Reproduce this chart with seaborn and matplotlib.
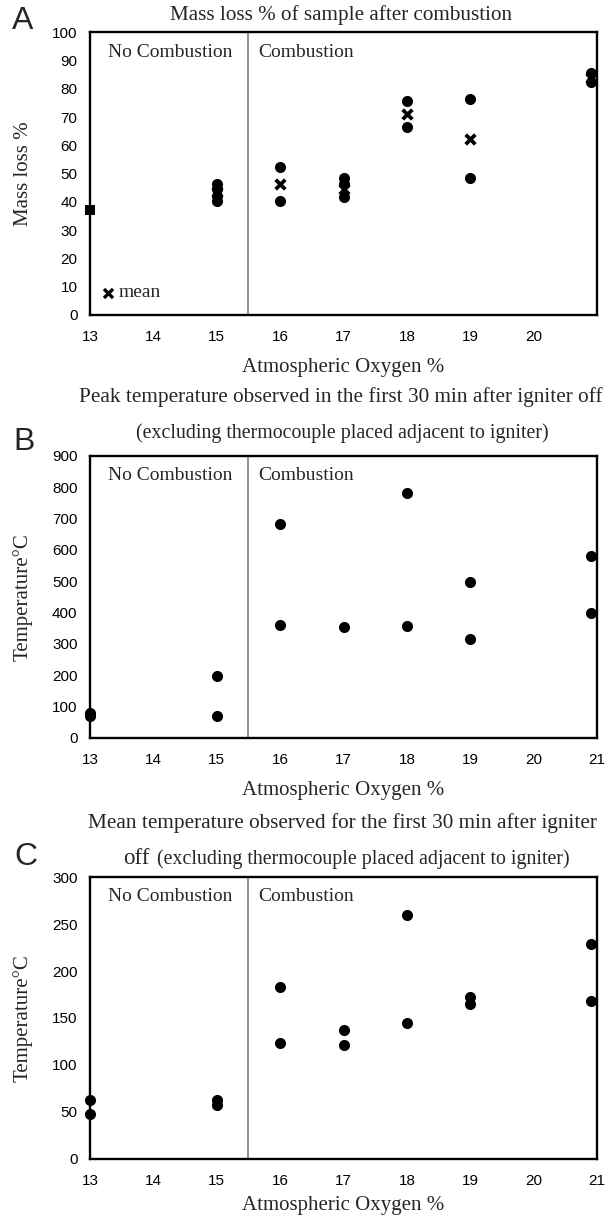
import matplotlib
matplotlib.use("Agg")
import matplotlib.pyplot as plt
import seaborn as sns
import pandas as pd

sns.set_style("white")
plt.rcParams["font.family"] = ["Liberation Sans", "DejaVu Sans"]
SERIF = ["Liberation Serif", "DejaVu Serif"]

# ---------------- data ----------------
x_ticks = [13, 14, 15, 16, 17, 18, 19, 20, 21]
x_ticklabels_a = ["13", "14", "15", "16", "17", "18", "19", "20", ""]
x_ticklabels = ["13", "14", "15", "16", "17", "18", "19", "20", "21"]

# Panel A: mass loss %
a_x = [15, 15, 15, 15, 16, 16, 17, 17, 17, 18, 18, 19, 19, 20.9, 20.9]
a_y = [46.5, 44.5, 42.0, 40.5, 52.3, 40.2, 48.5, 46.3, 41.8, 75.8, 66.6, 76.3, 48.6, 85.6, 82.3]
a_mean_x = [15, 16, 17, 18, 19, 20.9]
a_mean_y = [43.4, 46.4, 44.5, 71.2, 62.3, 84.0]
a_single_x = [13]
a_single_y = [37.0]
a_yticks = [0, 10, 20, 30, 40, 50, 60, 70, 80, 90, 100]

# Panel B: peak temperature
b_x = [13, 13, 15, 15, 16, 16, 17, 18, 18, 19, 19, 20.9, 20.9]
b_y = [78, 68, 196, 70, 682, 360, 353, 780, 355, 497, 314, 579, 399]
b_yticks = [0, 100, 200, 300, 400, 500, 600, 700, 800, 900]

# Panel C: mean temperature
c_x = [13, 13, 15, 15, 16, 16, 17, 17, 18, 18, 19, 19, 20.9, 20.9]
c_y = [62, 48, 62, 57, 183, 123, 137, 121, 260, 144.5, 172, 164.5, 229, 168]
c_yticks = [0, 50, 100, 150, 200, 250, 300]

divider = 15.5
xlabel = "Atmospheric Oxygen %"

# ---------------- figure ----------------
W, H = 608, 1220
fig = plt.figure(figsize=(W / 100, H / 100), dpi=100)


def px_axes(left, top, right, bottom):
    return fig.add_axes([left / W, 1 - bottom / H, (right - left) / W, (bottom - top) / H])


def ftext(x, y, s, **kw):
    fig.text(x / W, 1 - y / H, s, **kw)


axA = px_axes(90, 32.3, 597, 315)
axB = px_axes(90, 455.7, 597, 737.7)
axC = px_axes(90, 877.3, 597, 1158.5)


def style(ax, yticks, xlabels, ylabel, labelpad):
    ax.set_xlim(13, 21)
    ax.set_ylim(yticks[0], yticks[-1])
    ax.set_xticks(x_ticks)
    ax.set_xticklabels(xlabels)
    ax.set_yticks(yticks)
    for sp in ax.spines.values():
        sp.set_visible(True)
        sp.set_color("black")
        sp.set_linewidth(1.7)
    ax.tick_params(axis="both", direction="out", length=4, width=1.6,
                   color="#9a9a9a", labelcolor="black", labelsize=11)
    ax.tick_params(axis="x", pad=7)
    ax.tick_params(axis="y", pad=5)
    ax.axvline(divider, color="#8a8a8a", lw=1.3, zorder=1)
    ax.set_xlabel(xlabel, family=SERIF, fontsize=15, labelpad=labelpad)
    ax.set_ylabel(ylabel, family=SERIF, fontsize=15)
    ax.yaxis.set_label_coords(-0.113, 0.5)
    ax.text(13.28, 0.93, "No Combustion", transform=ax.get_xaxis_transform(),
            family=SERIF, fontsize=14, va="center", ha="left")
    ax.text(15.66, 0.93, "Combustion", transform=ax.get_xaxis_transform(),
            family=SERIF, fontsize=14, va="center", ha="left")


def dots(ax, xs, ys):
    df = pd.DataFrame({"x": xs, "y": ys})
    sns.scatterplot(data=df, x="x", y="y", ax=ax, color="black", s=64,
                    marker="o", linewidth=0, clip_on=False, zorder=3, legend=False)


# Panel A
dots(axA, a_x, a_y)
sns.scatterplot(x=a_single_x, y=a_single_y, ax=axA, color="black", s=62, marker="s",
                linewidth=0, clip_on=False, zorder=3, legend=False)
axA.scatter(a_mean_x, a_mean_y, marker="x", s=48, color="black", linewidths=2.7,
            zorder=4, clip_on=False)
axA.scatter([13.28], [7.9], marker="x", s=42, color="black", linewidths=2.4, zorder=4)
axA.text(13.45, 7.9, "mean", family=SERIF, fontsize=14, va="center", ha="left")
style(axA, a_yticks, x_ticklabels_a, "Mass loss %", 10)

# Panel B
dots(axB, b_x, b_y)
style(axB, b_yticks, x_ticklabels, "Temperature\u00b0C", 10)

# Panel C
dots(axC, c_x, c_y)
style(axC, c_yticks, x_ticklabels, "Temperature\u00b0C", 6)

# titles
ftext(341, 15, "Mass loss % of sample after combustion", family=SERIF,
      fontsize=15.2, ha="center", va="center")
ftext(341, 397, "Peak temperature observed in the first 30 min after igniter off",
      family=SERIF, fontsize=15.3, ha="center", va="center")
ftext(342.5, 433, "(excluding thermocouple placed adjacent to igniter)",
      family=SERIF, fontsize=14.3, ha="center", va="center")
ftext(342, 823, "Mean temperature observed for the first 30 min after igniter",
      family=SERIF, fontsize=15.3, ha="center", va="center")
ftext(150, 859, "off", family=SERIF, fontsize=16.5, ha="right", va="center")
ftext(157, 859, "(excluding thermocouple placed adjacent to igniter)",
      family=SERIF, fontsize=14.3, ha="left", va="center")

# panel letters
ftext(23, 21, "A", fontsize=23, ha="center", va="center")
ftext(24, 442, "B", fontsize=23, ha="center", va="center")
ftext(26, 857, "C", fontsize=23, ha="center", va="center")

fig.savefig("out.png", dpi=100)
